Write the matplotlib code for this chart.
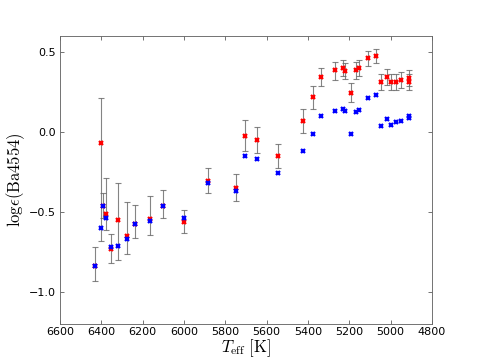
import numpy as np
import matplotlib
matplotlib.use('Agg')
import matplotlib.pyplot as plt

# data
teff = [6430, 6403, 6390, 6377, 6353, 6321, 6277, 6236, 6164, 6100,
        5998, 5882, 5747, 5704, 5645, 5544, 5425, 5378, 5337, 5268,
        5233, 5220, 5192, 5166, 5152, 5112, 5071, 5047, 5018, 4997,
        4974, 4948, 4913, 4912]
ba_red = [-0.84, -0.07, -0.46, -0.51, -0.73, -0.55, -0.65, -0.575, -0.545, -0.46,
          -0.56, -0.305, -0.35, -0.025, -0.05, -0.15, 0.07, 0.22, 0.345, 0.385,
          0.40, 0.38, 0.245, 0.385, 0.40, 0.46, 0.475, 0.31, 0.345, 0.315,
          0.315, 0.325, 0.335, 0.315]
ba_blue = [-0.84, -0.60, -0.46, -0.54, -0.72, -0.71, -0.67, -0.575, -0.555, -0.46,
           -0.54, -0.32, -0.37, -0.15, -0.17, -0.255, -0.12, -0.01, 0.10, 0.13,
           0.145, 0.13, -0.015, 0.125, 0.135, 0.21, 0.23, 0.04, 0.08, 0.045,
           0.06, 0.07, 0.10, 0.09]
err_lo = [0.09, 0.61, 0.08, 0.10, 0.09, 0.25, 0.11, 0.09, 0.10, 0.08,
          0.07, 0.075, 0.08, 0.095, 0.08, 0.075, 0.075, 0.075, 0.06, 0.06,
          0.05, 0.05, 0.06, 0.055, 0.05, 0.045, 0.045, 0.05, 0.05, 0.05,
          0.05, 0.05, 0.05, 0.05]
err_hi = [0.12, 0.28, 0.08, 0.22, 0.09, 0.23, 0.21, 0.12, 0.145, 0.10,
          0.07, 0.08, 0.09, 0.10, 0.08, 0.075, 0.075, 0.07, 0.055, 0.055,
          0.05, 0.05, 0.06, 0.055, 0.05, 0.045, 0.045, 0.05, 0.05, 0.05,
          0.05, 0.05, 0.05, 0.05]

plt.rcParams['mathtext.fontset'] = 'cm'
plt.rcParams['xtick.direction'] = 'in'
plt.rcParams['ytick.direction'] = 'in'

fig = plt.figure(figsize=(6, 4.5), dpi=80)
ax = fig.add_subplot(111)
fig.subplots_adjust(left=0.125, right=0.9, bottom=0.1, top=0.9)

# error bars on the red points
ax.errorbar(teff, ba_red, yerr=[err_lo, err_hi], fmt='none', ecolor='0.4',
            elinewidth=1, capsize=3, alpha=0.8, zorder=1)
ax.plot(teff, ba_red, 'x', color='red', ms=4, mew=2, zorder=2)
ax.plot(teff, ba_blue, 'x', color='blue', ms=4, mew=2, zorder=3)

ax.set_xlim(6600, 4800)
ax.set_ylim(-1.2, 0.6)
ax.set_xticks(np.arange(6600, 4799, -200))
ax.set_yticks([-1.0, -0.5, 0.0, 0.5])
ax.tick_params(top=True, right=True, labelsize=10, length=4, color='0.4')
ax.tick_params(axis='x', pad=3)
for s in ax.spines.values():
    s.set_color('0.4')

ax.set_xlabel(r'$T_{\rm eff}\ [\rm K]$', fontsize=15, labelpad=0)
ax.set_ylabel(r'$\mathrm{log}\epsilon(\mathrm{Ba4554})$', fontsize=15, labelpad=2)

fig.savefig('out.png', dpi=80)
